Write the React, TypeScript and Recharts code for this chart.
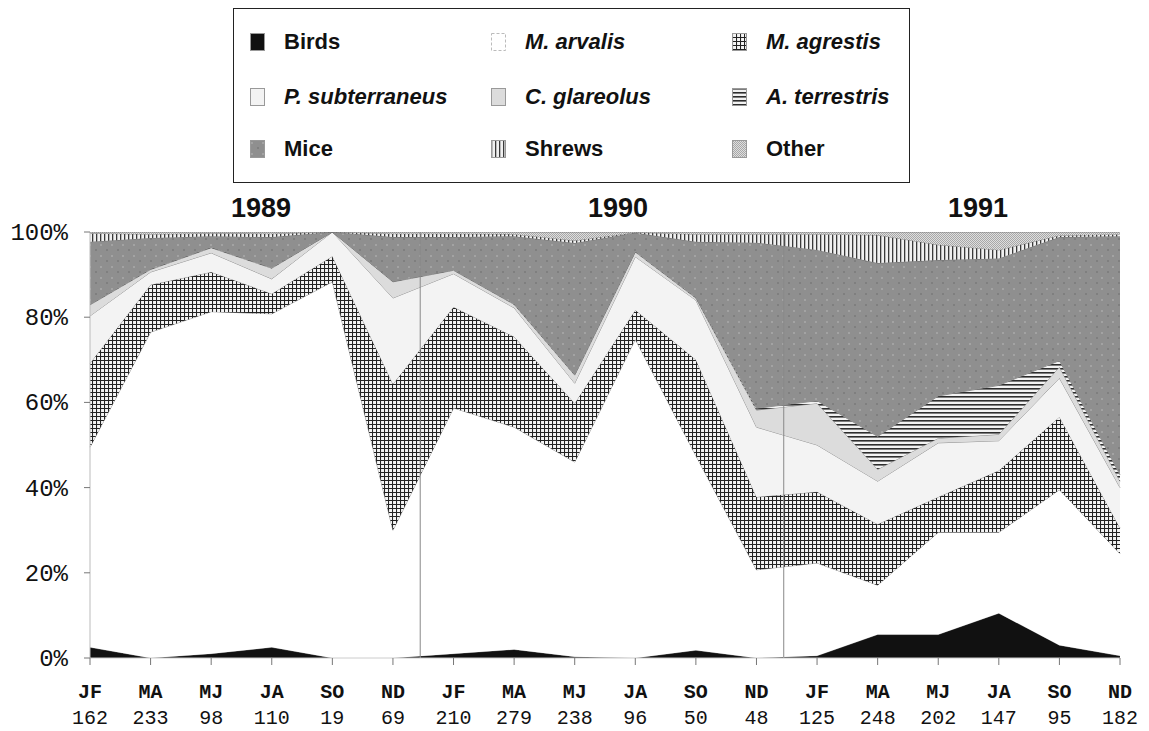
import { AreaChart, Area, XAxis, YAxis, ReferenceLine } from 'recharts'

const MONTHS = ['JF', 'MA', 'MJ', 'JA', 'SO', 'ND', 'JF', 'MA', 'MJ', 'JA', 'SO', 'ND', 'JF', 'MA', 'MJ', 'JA', 'SO', 'ND']
const SAMPLE_N = [162, 233, 98, 110, 19, 69, 210, 279, 238, 96, 50, 48, 125, 248, 202, 147, 95, 182]
const YEARS = ['1989', '1990', '1991']

// share of each prey group (%), bottom of the stack first
const birds = [2.5, 0, 1, 2.5, 0, 0, 1, 2, 0.3, 0, 1.8, 0, 0.5, 5.5, 5.5, 10.5, 3, 0.5]
const arvalis = [47, 76.5, 80.3, 78.3, 88.3, 30, 57.7, 52.2, 45.7, 74.8, 45.7, 20.7, 21.8, 11.6, 24, 19, 36.5, 24]
const agrestis = [19.7, 11.1, 9.3, 4.7, 6, 34.3, 23.7, 21.2, 13.8, 6.9, 22.5, 17.1, 16.7, 14.3, 8.3, 14.5, 17.1, 6]
const subterraneus = [11.1, 3, 4.5, 3.5, 5.7, 20.2, 7.8, 6.8, 4.7, 12.5, 14, 16.4, 11, 10.1, 12.7, 7, 9.1, 9.5]
const glareolus = [2.6, 0.6, 1.2, 2.5, 0, 3.8, 0.8, 0.8, 1.9, 1.1, 0.5, 4, 9.8, 2.8, 1.1, 1.5, 2.6, 1.5]
const terrestris = [0.1, 0.1, 0.1, 0.1, 0, 0.1, 0.1, 0.1, 0.1, 0.1, 0.1, 0.4, 0.6, 7.7, 9.9, 11.5, 1.5, 1.5]
const mice = [14.7, 7.3, 2.6, 7.2, 0, 10.4, 7.7, 15.9, 30.9, 4.4, 13.1, 38.9, 35.4, 40.7, 31.9, 29.8, 29, 56]
const shrews = [2, 0.9, 0.7, 0.8, 0, 0.8, 0.8, 0.5, 0.6, 0.1, 1.8, 2, 3.7, 6.6, 3.6, 2, 0.4, 0.5]
const other = [0.3, 0.5, 0.3, 0.4, 0, 0.4, 0.4, 0.5, 2, 0.1, 0.5, 0.5, 0.5, 0.7, 3, 4.2, 0.8, 0.5]

const SERIES = [
  { key: 'birds', name: 'Birds', italic: false, fill: '#111', values: birds },
  { key: 'arvalis', name: 'M. arvalis', italic: true, fill: '#fff', values: arvalis },
  { key: 'agrestis', name: 'M. agrestis', italic: true, fill: 'url(#p-agr)', values: agrestis },
  { key: 'subterraneus', name: 'P. subterraneus', italic: true, fill: '#f3f3f3', values: subterraneus },
  { key: 'glareolus', name: 'C. glareolus', italic: true, fill: '#dcdcdc', values: glareolus },
  { key: 'terrestris', name: 'A. terrestris', italic: true, fill: 'url(#p-ater)', values: terrestris },
  { key: 'mice', name: 'Mice', italic: false, fill: 'url(#p-mice)', values: mice },
  { key: 'shrews', name: 'Shrews', italic: false, fill: 'url(#p-shrew)', values: shrews },
  { key: 'other', name: 'Other', italic: false, fill: 'url(#p-other)', values: other },
]

// legend order is row by row, three columns
const LEGEND_ORDER = ['birds', 'arvalis', 'agrestis', 'subterraneus', 'glareolus', 'terrestris', 'mice', 'shrews', 'other']

const rows = MONTHS.map((m, i) => {
  const row: Record<string, number | string> = { idx: i, month: m, n: SAMPLE_N[i] }
  SERIES.forEach(s => { row[s.key] = s.values[i] })
  return row
})

const MONO = '"Liberation Mono", "DejaVu Sans Mono", monospace'
const SANS = '"Liberation Sans", Arial, sans-serif'

function Patterns() {
  return (
    <defs>
      <pattern id="p-agr" width="4" height="4" patternUnits="userSpaceOnUse">
        <rect width="4" height="4" fill="#f4f4f4" />
        <path d="M0 0.5H4M0.5 0V4" stroke="#222" strokeWidth="1.1" />
      </pattern>
      <pattern id="p-ater" width="4" height="4" patternUnits="userSpaceOnUse">
        <rect width="4" height="4" fill="#f2f2f2" />
        <rect width="4" height="1.6" fill="#2e2e2e" />
      </pattern>
      <pattern id="p-mice" width="11" height="11" patternUnits="userSpaceOnUse">
        <rect width="11" height="11" fill="#8f8f8f" />
        <circle cx="2" cy="3" r="0.8" fill="#bdbdbd" />
        <circle cx="8" cy="8" r="0.8" fill="#6a6a6a" />
      </pattern>
      <pattern id="p-shrew" width="4" height="4" patternUnits="userSpaceOnUse">
        <rect width="4" height="4" fill="#f0f0f0" />
        <rect width="1.3" height="4" fill="#3a3a3a" />
      </pattern>
      <pattern id="p-other" width="2" height="2" patternUnits="userSpaceOnUse">
        <rect width="2" height="2" fill="#dedede" />
        <rect width="1" height="1" fill="#a8a8a8" />
        <rect x="1" y="1" width="1" height="1" fill="#a8a8a8" />
      </pattern>
    </defs>
  )
}

function XTick({ x, y, payload }: any) {
  const i = payload.value as number
  return (
    <text x={x} y={y} textAnchor="middle" fontFamily={MONO} fontSize={20} fill="#111">
      <tspan x={x} dy={31} fontWeight="bold">{MONTHS[i]}</tspan>
      <tspan x={x} dy={26}>{SAMPLE_N[i]}</tspan>
    </text>
  )
}

function YTick({ x, y, payload }: any) {
  return (
    <text x={x - 14} y={y} dy={8} textAnchor="end" fontFamily={MONO} fontSize={24} fill="#111">
      {`${payload.value}%`}
    </text>
  )
}

function Swatch({ fill, dashed }: { fill: string; dashed?: boolean }) {
  return (
    <svg width={15} height={18} style={{ display: 'block' }}>
      <rect x={0.5} y={0.5} width={14} height={17} fill={fill}
        stroke={dashed ? '#bbb' : '#999'} strokeWidth={1} strokeDasharray={dashed ? '3 2' : undefined} />
    </svg>
  )
}

const COL_X = [16, 257, 498]
const ROW_Y = [33, 88, 140]

function LegendBox() {
  return (
    <div style={{ position: 'absolute', left: 233, top: 8, width: 677, height: 175, border: '1.5px solid #222', boxSizing: 'border-box' }}>
      {LEGEND_ORDER.map((k, i) => {
        const s = SERIES.find(d => d.key === k)!
        return (
          <div key={k} style={{ position: 'absolute', left: COL_X[i % 3], top: ROW_Y[Math.floor(i / 3)] - 10, display: 'flex', alignItems: 'center', height: 20 }}>
            <Swatch fill={s.fill} dashed={k === 'arvalis'} />
            <span style={{ marginLeft: 19, fontFamily: SANS, fontWeight: 'bold', fontStyle: s.italic ? 'italic' : 'normal', fontSize: 22, color: '#111', whiteSpace: 'nowrap' }}>
              {s.name}
            </span>
          </div>
        )
      })}
    </div>
  )
}

const YEAR_X = [261, 618, 978]

export default function App() {
  return (
    <div style={{ position: 'absolute', left: 0, top: 0, width: 1149, height: 731, background: '#fff' }}>
      <LegendBox />
      {YEARS.map((yr, i) => (
        <div key={yr} style={{ position: 'absolute', left: YEAR_X[i] - 50, width: 100, top: 195, textAlign: 'center', fontFamily: SANS, fontWeight: 'bold', fontSize: 27, lineHeight: '27px', color: '#111' }}>
          {yr}
        </div>
      ))}
      <AreaChart width={1149} height={731} data={rows} margin={{ top: 232, right: 29, bottom: 0, left: 0 }}>
        <Patterns />
        <XAxis
          type="number"
          dataKey="idx"
          domain={[0, MONTHS.length - 1]}
          ticks={MONTHS.map((_, i) => i)}
          interval={0}
          height={73}
          tick={<XTick />}
          tickLine={{ stroke: '#777' }}
          tickSize={7}
          axisLine={{ stroke: '#ccc' }}
        />
        <YAxis
          domain={[0, 100]}
          ticks={[0, 20, 40, 60, 80, 100]}
          allowDataOverflow
          width={90}
          tick={<YTick />}
          tickLine={{ stroke: '#777' }}
          tickSize={6}
          axisLine={{ stroke: '#bbb' }}
        />
        {SERIES.map(s => (
          <Area
            key={s.key}
            dataKey={s.key}
            name={s.name}
            stackId="diet"
            type="linear"
            fill={s.fill}
            fillOpacity={1}
            stroke="#6a6a6a"
            strokeWidth={0.7}
            isAnimationActive={false}
          />
        ))}
        <ReferenceLine x={5.45} stroke="#888" strokeWidth={1} />
        <ReferenceLine x={11.45} stroke="#888" strokeWidth={1} />
      </AreaChart>
    </div>
  )
}
